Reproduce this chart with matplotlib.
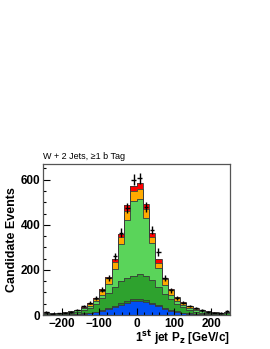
import matplotlib
matplotlib.use("Agg")
import matplotlib.pyplot as plt
import numpy as np

plt.rcParams['font.family'] = ['Liberation Sans', 'DejaVu Sans']

# 30 bins from -250 to 250 GeV/c
edges = np.linspace(-250, 250, 31)
centers = 0.5 * (edges[:-1] + edges[1:])

# stacked expectations, bottom to top
blue = [1, 1, 1, 1.5, 2, 3, 5, 8, 12, 18, 26, 35, 45, 55, 63,
        64, 58, 48, 38, 28, 19, 13, 8, 5, 3, 2, 1.5, 1, 1, 1]
thin_green = [1, 1, 1, 1, 1, 1, 2, 2, 3, 4, 5, 6, 7, 8, 8,
              8, 8, 7, 6, 5, 4, 3, 2, 2, 1, 1, 1, 1, 1, 1]
dark_green = [4, 3, 4, 5.5, 7, 11, 15, 23, 35, 52, 67, 85, 98, 102, 104,
              108, 105, 98, 81, 62, 49, 34, 24, 15, 11, 7, 5.5, 4, 3, 5]
light_green = [3, 2, 2, 3, 4, 5, 7, 9, 11, 15, 40, 79, 163, 257, 331,
               336, 258, 165, 85, 40, 17, 12, 11, 11, 9, 7, 5, 4, 4, 5]
orange = [2, 1, 1, 1, 2, 3, 4, 7, 11, 19, 24, 31, 31, 41, 42,
          44, 40, 26, 21, 25, 20, 13, 9, 6, 4, 4, 3, 2, 1, 2]
red = [1, 1, 1, 1, 1, 1, 2, 3, 5, 7, 8, 14, 16, 25, 26,
       25, 22, 18, 19, 6, 5, 4, 3, 2, 2, 1, 1, 1, 1, 1]
data = [14, 6, 8, 10, 14, 22, 40, 55, 75, 113, 164, 260, 365, 476, 600,
        607, 480, 377, 280, 164, 110, 75, 55, 40, 30, 20, 14, 10, 9, 18]

layers = [blue, thin_green, dark_green, light_green, orange, red]
colors = ['#0050f5', '#1f8a1f', '#2ea22e', '#5ad45a', '#ffaa00', '#ff0000']

fig = plt.figure(figsize=(2.70, 3.49), dpi=100)
ax = fig.add_axes([0.160, 0.0974, 0.692, 0.433])

bottom = np.zeros(len(centers))
for vals, c in zip(layers, colors):
    top = bottom + np.array(vals, dtype=float)
    ax.stairs(top, edges, baseline=bottom, fill=True, color=c, lw=0)
    bottom = top
bottom = np.zeros(len(centers))
for vals in layers:
    bottom = bottom + np.array(vals, dtype=float)
    ax.stairs(bottom, edges, baseline=None, color='#3a3a3a', lw=0.6)

data = np.array(data, dtype=float)
ax.errorbar(centers, data, yerr=np.sqrt(data), xerr=6, fmt='none',
            ecolor='black', elinewidth=1.0, capsize=0)

ax.set_xlim(-250, 250)
ax.set_ylim(0, 670)
ax.set_xticks([-200, -100, 0, 100, 200])
ax.set_yticks([0, 200, 400, 600])
ax.set_xticks(np.arange(-240, 250, 20), minor=True)
ax.set_yticks(np.arange(0, 670, 50), minor=True)
ax.tick_params(which='both', direction='in', labelsize=8.5, width=0.8)
ax.tick_params(which='major', length=5)
ax.tick_params(which='minor', length=2.5)
ax.tick_params(axis='x', pad=2)
ax.tick_params(axis='y', pad=2)
for lab in ax.get_xticklabels() + ax.get_yticklabels():
    lab.set_fontweight('bold')
for s in ax.spines.values():
    s.set_color('#555555')
    s.set_linewidth(0.9)

ax.set_ylabel('Candidate Events', fontsize=9, fontweight='bold', labelpad=2)
ax.set_xlabel('1$^{\\mathbf{st}}$ jet P$_{\\mathbf{z}}$ [GeV/c]', fontsize=8.5,
              fontweight='bold', loc='right', labelpad=-1)
ax.text(0.0, 1.02, 'W + 2 Jets, \u22651 b Tag', transform=ax.transAxes,
        fontsize=6.5, ha='left', va='bottom')

fig.savefig('out.png', dpi=100)
